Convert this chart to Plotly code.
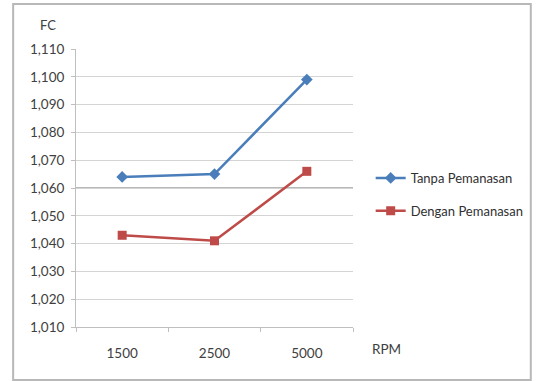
import plotly.graph_objects as go

rpm = ["1500", "2500", "5000"]
tanpa_pemanasan = [1.064, 1.065, 1.099]
dengan_pemanasan = [1.043, 1.041, 1.066]
y_ticks = [1.010, 1.020, 1.030, 1.040, 1.050, 1.060, 1.070, 1.080, 1.090, 1.100, 1.110]

W, H = 541, 381
L, R, T, B = 76, 358, 49, 327

fig = go.Figure()
fig.add_trace(go.Scatter(
    x=rpm, y=tanpa_pemanasan, name="Tanpa Pemanasan", mode="lines+markers",
    legendgroup="tanpa",
    line=dict(color="#4a7ebb", width=2.5),
    marker=dict(symbol="diamond", size=9, color="#4a7ebb"),
))
fig.add_trace(go.Scatter(
    x=rpm, y=dengan_pemanasan, name="Dengan Pemanasan", mode="lines+markers",
    legendgroup="dengan",
    line=dict(color="#be4b48", width=2.5),
    marker=dict(symbol="square", size=9, color="#be4b48"),
))

pw, ph = R - L, B - T
def px_x(v):
    return (v - L) / pw
def px_y(v):
    return (B - v) / ph

# outer chart frame
fig.add_shape(type="rect", xref="paper", yref="paper",
              x0=px_x(12), x1=px_x(539), y0=px_y(380), y1=px_y(4),
              line=dict(color="#b8b8b8", width=2), fillcolor="rgba(0,0,0,0)", layer="below")
# darker reference line at 1,060
fig.add_shape(type="line", xref="paper", yref="y", x0=0, x1=1, y0=1.060, y1=1.060,
              line=dict(color="#707070", width=1), layer="below")

font = "Lato, 'Open Sans', sans-serif"
fig.update_layout(
    width=W, height=H,
    margin=dict(l=L, r=W - R, t=T, b=H - B),
    paper_bgcolor="white", plot_bgcolor="white",
    separators=",.",
    font=dict(family=font, size=13, color="#404040"),
    showlegend=True,
    legend=dict(x=px_x(376), y=px_y(163), xanchor="left", yanchor="top",
                bgcolor="rgba(0,0,0,0)", font=dict(size=13, color="#303030"),
                tracegroupgap=13, itemwidth=30),
    xaxis=dict(type="category", range=[-0.5, 2.5], showgrid=False,
               showline=True, linecolor="#bfbfbf", linewidth=1,
               ticks="outside", tickson="boundaries", ticklen=4, tickcolor="#bfbfbf",
               ticklabelstandoff=14,
               tickfont=dict(size=13.5, color="#404040")),
    yaxis=dict(range=[1.010, 1.110], tickvals=y_ticks, tickformat=".3f",
               showgrid=True, gridcolor="#d4d4d4", gridwidth=1,
               showline=True, linecolor="#bfbfbf", linewidth=1,
               ticks="outside", ticklen=4, tickcolor="#bfbfbf",
               ticklabelstandoff=4,
               tickfont=dict(size=13.5, color="#404040"), zeroline=False),
)
fig.add_annotation(text="FC", xref="paper", yref="paper", x=px_x(48), y=px_y(25),
                   xanchor="center", yanchor="middle",
                   showarrow=False, font=dict(size=13, color="#404040"))
fig.add_annotation(text="RPM", xref="paper", yref="paper", x=px_x(392), y=px_y(349),
                   xanchor="center", yanchor="middle",
                   showarrow=False, font=dict(size=13.5, color="#404040"))

fig.write_html("out.html")
